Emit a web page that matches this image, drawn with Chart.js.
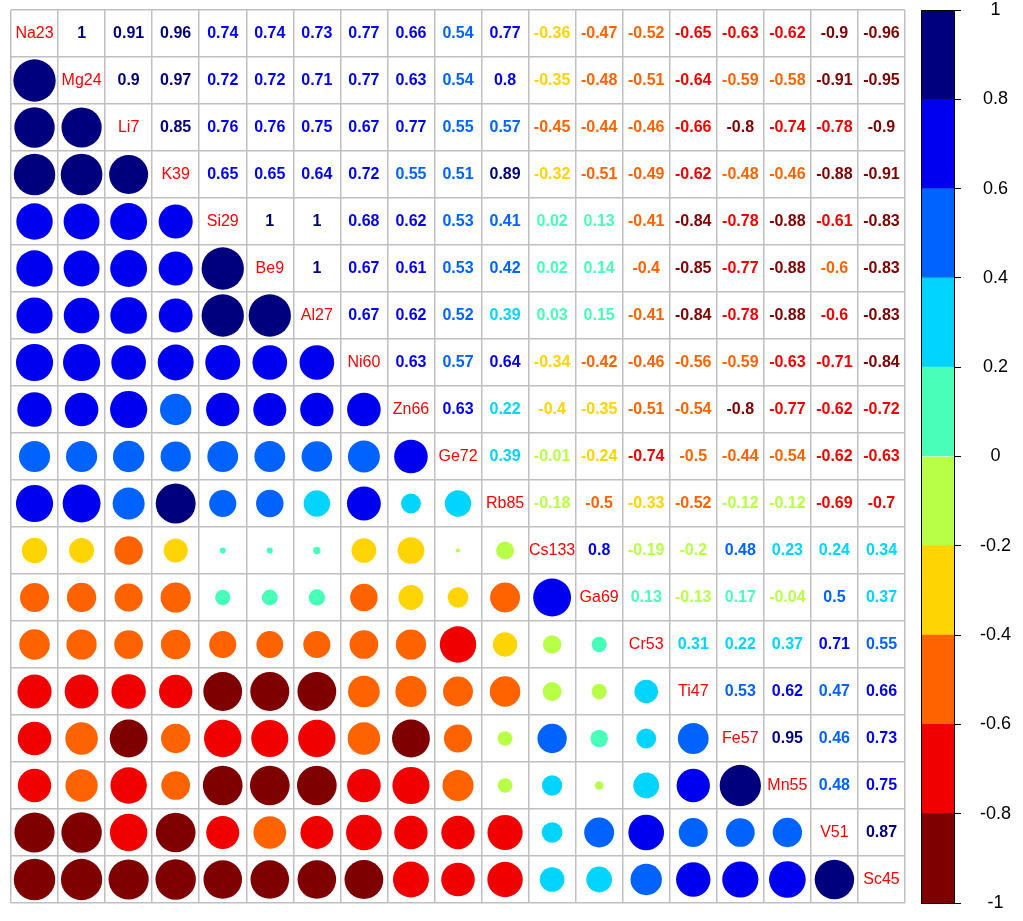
<!DOCTYPE html>
<html><head><meta charset="utf-8">
<script src="https://cdn.jsdelivr.net/npm/chart.js@4/dist/chart.umd.min.js"></script>
<style>
html,body{margin:0;padding:0;background:#fff;}
#main{position:absolute;left:0;top:0;}
#bar{position:absolute;left:915px;top:0;}
</style></head><body>
<canvas id="main" width="915" height="921"></canvas>
<canvas id="bar" width="108" height="921"></canvas>
<script>
const variables = ['Na23','Mg24','Li7','K39','Si29','Be9','Al27','Ni60','Zn66','Ge72','Rb85','Cs133','Ga69','Cr53','Ti47','Fe57','Mn55','V51','Sc45'];

// upper-triangle correlations, row by row (columns after the diagonal)
const upper_Na23  = [1, 0.91, 0.96, 0.74, 0.74, 0.73, 0.77, 0.66, 0.54, 0.77, -0.36, -0.47, -0.52, -0.65, -0.63, -0.62, -0.9, -0.96];
const upper_Mg24  = [0.9, 0.97, 0.72, 0.72, 0.71, 0.77, 0.63, 0.54, 0.8, -0.35, -0.48, -0.51, -0.64, -0.59, -0.58, -0.91, -0.95];
const upper_Li7   = [0.85, 0.76, 0.76, 0.75, 0.67, 0.77, 0.55, 0.57, -0.45, -0.44, -0.46, -0.66, -0.8, -0.74, -0.78, -0.9];
const upper_K39   = [0.65, 0.65, 0.64, 0.72, 0.55, 0.51, 0.89, -0.32, -0.51, -0.49, -0.62, -0.48, -0.46, -0.88, -0.91];
const upper_Si29  = [1, 1, 0.68, 0.62, 0.53, 0.41, 0.02, 0.13, -0.41, -0.84, -0.78, -0.88, -0.61, -0.83];
const upper_Be9   = [1, 0.67, 0.61, 0.53, 0.42, 0.02, 0.14, -0.4, -0.85, -0.77, -0.88, -0.598, -0.83];
const upper_Al27  = [0.67, 0.62, 0.52, 0.39, 0.03, 0.15, -0.41, -0.84, -0.78, -0.88, -0.6, -0.83];
const upper_Ni60  = [0.63, 0.57, 0.64, -0.34, -0.42, -0.46, -0.56, -0.59, -0.63, -0.71, -0.84];
const upper_Zn66  = [0.63, 0.22, -0.398, -0.35, -0.51, -0.54, -0.8, -0.77, -0.62, -0.72];
const upper_Ge72  = [0.39, -0.01, -0.24, -0.74, -0.5, -0.44, -0.54, -0.62, -0.63];
const upper_Rb85  = [-0.18, -0.5, -0.33, -0.52, -0.12, -0.12, -0.69, -0.7];
const upper_Cs133 = [0.8, -0.19, -0.198, 0.48, 0.23, 0.24, 0.34];
const upper_Ga69  = [0.13, -0.13, 0.17, -0.04, 0.5, 0.37];
const upper_Cr53  = [0.31, 0.22, 0.37, 0.71, 0.55];
const upper_Ti47  = [0.53, 0.62, 0.47, 0.66];
const upper_Fe57  = [0.95, 0.46, 0.73];
const upper_Mn55  = [0.48, 0.75];
const upper_V51   = [0.87];
const upper_Sc45  = [];

const binBreaks = [-1, -0.8, -0.6, -0.4, -0.2, 0, 0.2, 0.4, 0.6, 0.8, 1];
const binColors = ['#7F0000','#F10000','#FF6300','#FFD400','#B8FF47','#47FFB8','#00D4FF','#0063FF','#0000F1','#00007F'];
const colorbarTicks = [-1, -0.8, -0.6, -0.4, -0.2, 0, 0.2, 0.4, 0.6, 0.8, 1];

const upperRows = [upper_Na23, upper_Mg24, upper_Li7, upper_K39, upper_Si29, upper_Be9, upper_Al27, upper_Ni60, upper_Zn66, upper_Ge72, upper_Rb85, upper_Cs133, upper_Ga69, upper_Cr53, upper_Ti47, upper_Fe57, upper_Mn55, upper_V51, upper_Sc45];
const n = variables.length;
const M = [];
for (let i = 0; i < n; i++) { M.push(new Array(n).fill(1)); }
for (let i = 0; i < n; i++) {
  upperRows[i].forEach((v, k) => { const j = i + 1 + k; M[i][j] = v; M[j][i] = v; });
}

function colorFor(v) {
  if (v === undefined) return '#000';
  let k = Math.round((v + 1) * 5 * 1e6) / 1e6;
  let b = Math.ceil(k) - 1;
  b = Math.max(0, Math.min(binColors.length - 1, b));
  return binColors[b];
}

const points = [];
for (let i = 0; i < n; i++) for (let j = 0; j < i; j++) points.push({ x: j, y: i, v: M[i][j] });

const gridTicks = [];
for (let k = 0; k <= n; k++) gridTicks.push(k - 0.5);

Chart.defaults.font.family = '"Liberation Sans", Arial, sans-serif';

const textPlugin = {
  id: 'cellText',
  afterDatasetsDraw(chart) {
    const ctx = chart.ctx, xs = chart.scales.x, ys = chart.scales.y;
    ctx.save();
    ctx.textAlign = 'center';
    ctx.textBaseline = 'middle';
    for (let i = 0; i < n; i++) {
      for (let j = i; j < n; j++) {
        const px = xs.getPixelForValue(j), py = ys.getPixelForValue(i);
        if (i === j) {
          ctx.font = '16px "Liberation Sans", Arial, sans-serif';
          ctx.fillStyle = '#FF0000';
          ctx.fillText(variables[i], px, py);
        } else {
          const v = M[i][j];
          ctx.font = 'bold 16px "Liberation Sans", Arial, sans-serif';
          ctx.fillStyle = colorFor(v);
          ctx.fillText(String(Number(v.toFixed(2))), px, py);
        }
      }
    }
    ctx.restore();
  }
};

function circleRadius(c) {
  if (!c.raw || !c.chart.chartArea) return 0;
  const a = c.chart.chartArea;
  const cell = (a.right - a.left) / n;
  if (!isFinite(cell) || cell <= 0) return 0;
  return 0.9 * Math.sqrt(Math.abs(c.raw.v)) * cell / 2;
}

new Chart(document.getElementById('main'), {
  type: 'scatter',
  data: { datasets: [{
    data: points,
    clip: false,
    showLine: false,
    pointBackgroundColor: (c) => colorFor(c.raw ? c.raw.v : undefined),
    pointBorderWidth: 0,
    pointBorderColor: 'rgba(0,0,0,0)',
    pointRadius: circleRadius,
    pointHoverRadius: circleRadius
  }]},
  options: {
    responsive: false, animation: false, events: [],
    layout: { padding: { left: 11, top: 10, right: 10, bottom: 18 } },
    plugins: { legend: { display: false }, tooltip: { enabled: false } },
    scales: {
      x: { type: 'linear', position: 'top', min: -0.5, max: 18.5,
        afterBuildTicks: (s) => { s.ticks = gridTicks.map(v => ({ value: v })); },
        ticks: { display: false },
        grid: { color: '#C0C0C0', lineWidth: 1.5, drawTicks: false },
        border: { display: false } },
      y: { type: 'linear', reverse: true, min: -0.5, max: 18.5,
        afterBuildTicks: (s) => { s.ticks = gridTicks.map(v => ({ value: v })); },
        ticks: { display: false },
        grid: { color: '#C0C0C0', lineWidth: 1.5, drawTicks: false },
        border: { display: false } }
    }
  },
  plugins: [textPlugin]
});

const framePlugin = {
  id: 'frame',
  afterDatasetsDraw(chart) {
    const a = chart.chartArea, ctx = chart.ctx;
    ctx.save();
    ctx.strokeStyle = '#000';
    ctx.lineWidth = 1;
    ctx.strokeRect(Math.round(a.left) + 0.5, Math.round(a.top) + 0.5, Math.round(a.right - a.left) - 1, Math.round(a.bottom - a.top));
    ctx.restore();
  }
};

new Chart(document.getElementById('bar'), {
  type: 'bar',
  data: {
    labels: ['scale'],
    datasets: binColors.map((c, k) => ({
      data: [[binBreaks[k], binBreaks[k + 1]]],
      backgroundColor: c, borderWidth: 0, grouped: false,
      barPercentage: 1, categoryPercentage: 1
    }))
  },
  options: {
    responsive: false, animation: false, events: [],
    layout: { padding: { left: 6, top: 10, right: 0, bottom: 18 } },
    plugins: { legend: { display: false }, tooltip: { enabled: false } },
    scales: {
      x: { display: false },
      y: { position: 'right', min: -1, max: 1,
        afterBuildTicks: (s) => { s.ticks = colorbarTicks.map(v => ({ value: v })); },
        afterFit: (s) => { s.width = 68; s.paddingTop = 8; s.paddingBottom = 8; },
        grid: { drawOnChartArea: false, drawTicks: true, tickLength: 6, color: '#000', tickWidth: 1 },
        border: { display: false },
        ticks: { color: '#000', padding: 19, crossAlign: 'center',
          font: { size: 18, lineHeight: 1 },
          callback: (v) => String(v) } }
    }
  },
  plugins: [framePlugin]
});
</script>
</body></html>
